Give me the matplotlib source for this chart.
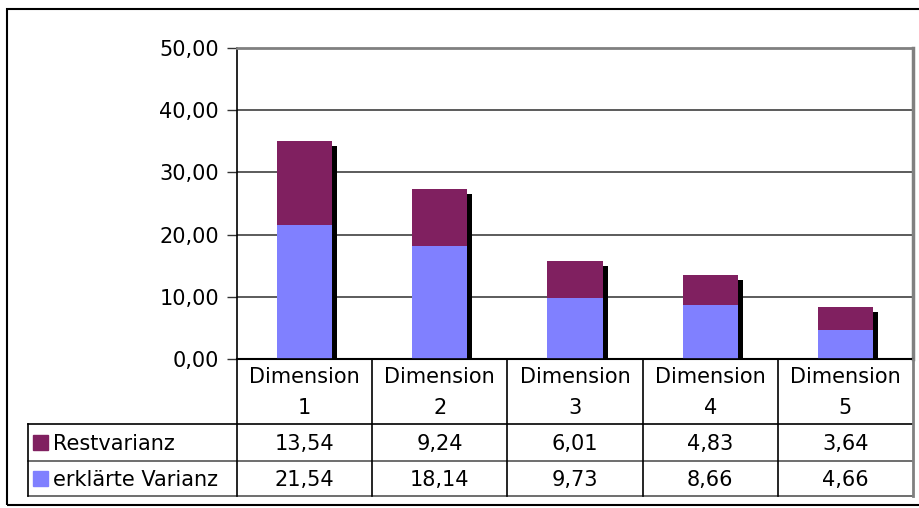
import matplotlib.pyplot as plt
import matplotlib.transforms as mtransforms
from matplotlib.lines import Line2D
from matplotlib.patches import Rectangle

# Varianzanteile je Dimension
dimensions = ["Dimension\n1", "Dimension\n2", "Dimension\n3", "Dimension\n4", "Dimension\n5"]
erklaerte_varianz = [21.54, 18.14, 9.73, 8.66, 4.66]
restvarianz = [13.54, 9.24, 6.01, 4.83, 3.64]
yticks = [0, 10, 20, 30, 40, 50]

col_rest = "#802060"
col_erkl = "#8080FF"

W, H = 920, 508
fig = plt.figure(figsize=(W / 100, H / 100), dpi=100)
plt.rcParams["font.family"] = ["DejaVu Sans"]
fs = 15


def fx(x):
    return x / W


def fy(y):
    return 1 - y / H


# plot area in pixel coordinates
left, right, top, bottom = 237, 913, 48, 359
ax = fig.add_axes([fx(left), fy(bottom), fx(right - left), (bottom - top) / H])

x = list(range(len(dimensions)))
totals = [a + b for a, b in zip(erklaerte_varianz, restvarianz)]
bw = 0.407

# schatten hinter den saeulen
shadow = ax.transData + mtransforms.ScaledTranslation(5 / 100, -5 / 100, fig.dpi_scale_trans)
ax.bar(x, totals, width=bw, color="black", zorder=2, transform=shadow)
ax.bar(x, erklaerte_varianz, width=bw, color=col_erkl, zorder=3)
ax.bar(x, restvarianz, width=bw, bottom=erklaerte_varianz, color=col_rest, zorder=3)

ax.set_xlim(-0.5, len(dimensions) - 0.5)
ax.set_ylim(0, 50)
ax.set_yticks(yticks)
ax.set_yticklabels([f"{v:.2f}".replace(".", ",") for v in yticks], fontsize=fs)
ax.set_xticks([])
ax.tick_params(axis="y", length=7, width=1, pad=6, color="#333333")
for v in yticks[1:]:
    ax.axhline(v, color="#404040", lw=1.2, zorder=1)
ax.spines["left"].set_color("black")
ax.spines["left"].set_linewidth(1.2)
ax.spines["bottom"].set_color("black")
ax.spines["bottom"].set_linewidth(1.5)
ax.spines["top"].set_color("#808080")
ax.spines["top"].set_linewidth(2)
ax.spines["right"].set_color("#808080")
ax.spines["right"].set_linewidth(2.5)


def hline(x0, x1, y, c="black", lw=1.2):
    fig.add_artist(Line2D([fx(x0), fx(x1)], [fy(y), fy(y)], color=c, lw=lw))


def vline(x0, y0, y1, c="black", lw=1.2):
    fig.add_artist(Line2D([fx(x0), fx(x0)], [fy(y0), fy(y1)], color=c, lw=lw))


# datentabelle unter dem diagramm
col_w = (right - left) / len(dimensions)
row_head, row1, row2, row_end = 359, 424, 461, 496
tab_left = 28
hline(left, right, row_head)
hline(tab_left, right, row1)
hline(tab_left, right, row2, c="#555555")
hline(tab_left, right, row_end, c="#555555")
vline(tab_left, row1, row_end)
for i in range(len(dimensions) + 1):
    xc = left + i * col_w
    c = "#808080" if i == len(dimensions) else "black"
    vline(xc, row_head, row_end, c=c, lw=2 if i == len(dimensions) else 1.2)

for i, lab in enumerate(dimensions):
    xc = left + (i + 0.5) * col_w
    fig.text(fx(xc), fy((row_head + row1) / 2 + 1), lab, ha="center", va="center",
             fontsize=fs, linespacing=1.65)
    fig.text(fx(xc), fy((row1 + row2) / 2 + 1), f"{restvarianz[i]:.2f}".replace(".", ","),
             ha="center", va="center", fontsize=fs)
    fig.text(fx(xc), fy((row2 + row_end) / 2 + 1), f"{erklaerte_varianz[i]:.2f}".replace(".", ","),
             ha="center", va="center", fontsize=fs)

for (ya, yb), name, col in [((row1, row2), "Restvarianz", col_rest),
                            ((row2, row_end), "erklärte Varianz", col_erkl)]:
    yc = (ya + yb) / 2
    fig.add_artist(Rectangle((fx(33), fy(yc + 7.5)), 15 / W, 15 / H, color=col,
                             transform=fig.transFigure))
    fig.text(fx(53), fy(yc + 1), name, ha="left", va="center", fontsize=fs)

# aeusserer rahmen
fig.add_artist(Rectangle((fx(7), fy(505)), (W + 10) / W, (505 - 9) / H, fill=False,
                         ec="black", lw=1.5, transform=fig.transFigure))

fig.savefig("out.png", dpi=100)
